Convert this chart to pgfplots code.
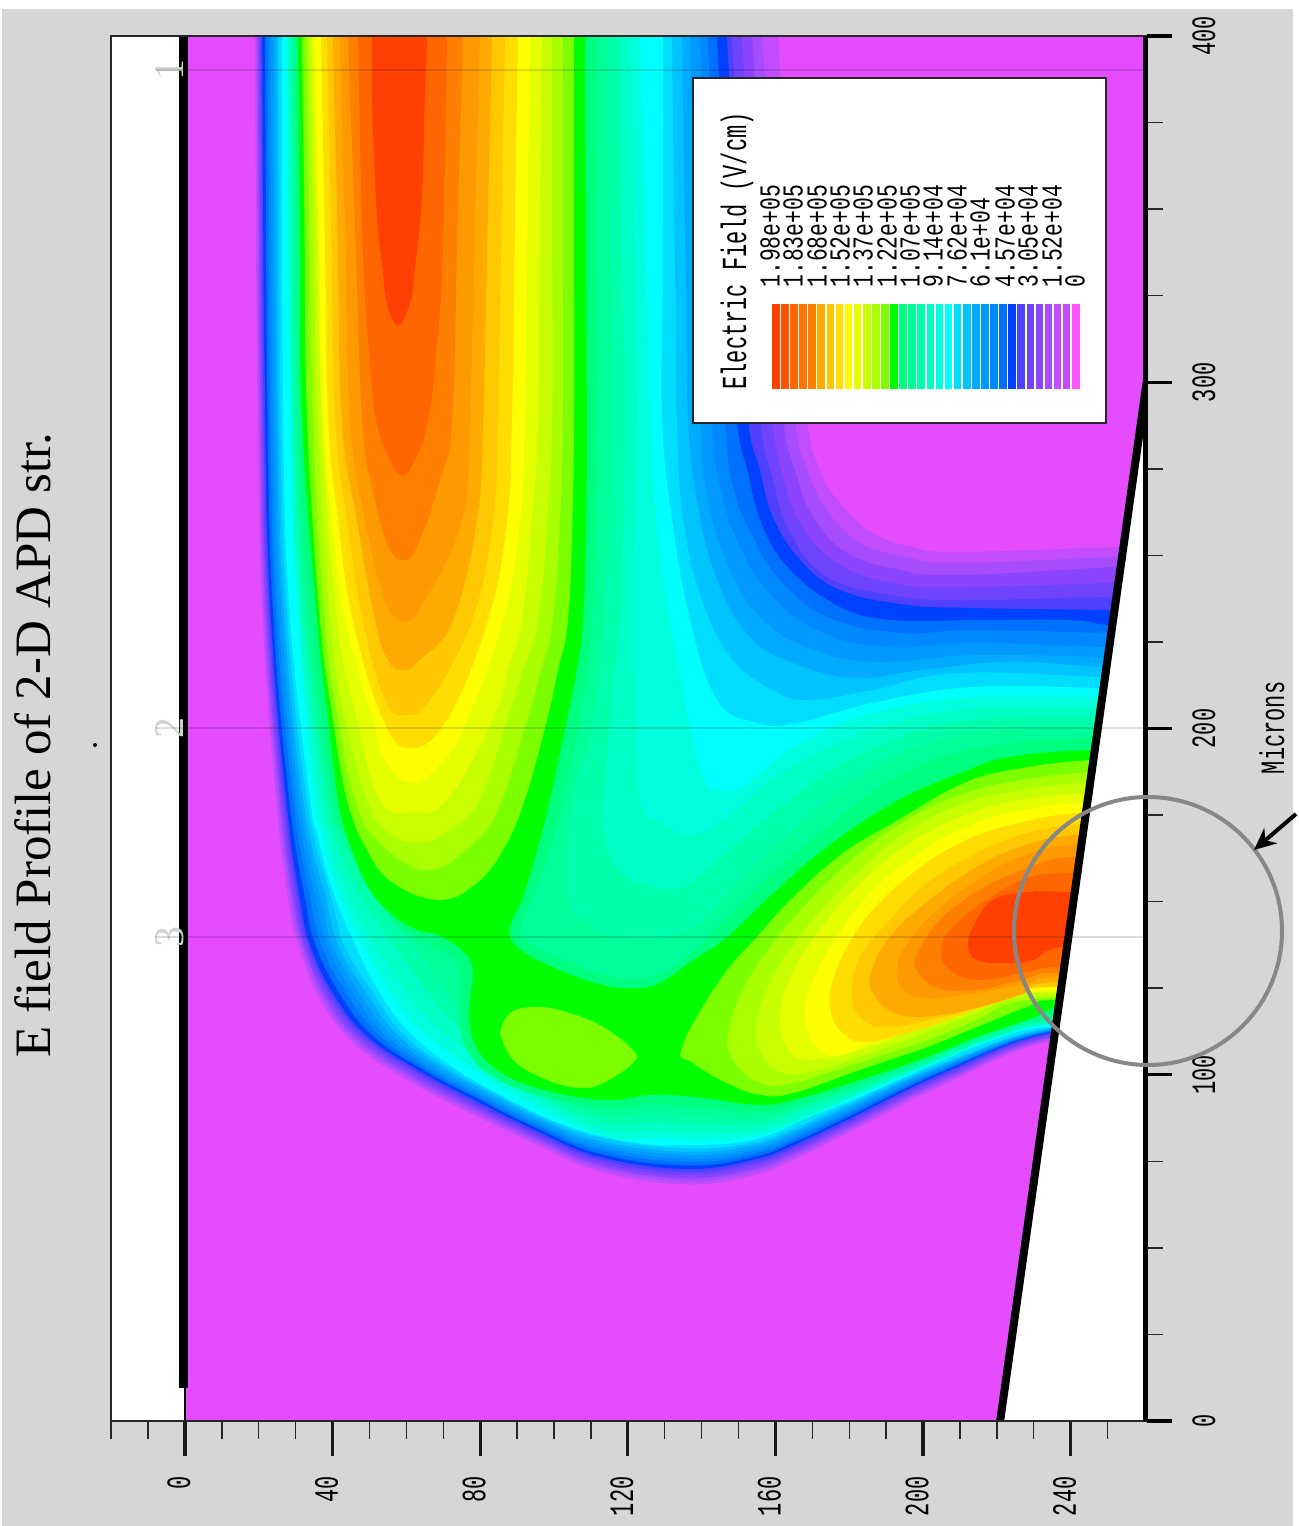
\documentclass[border=0pt]{standalone}
\usepackage{fontspec}
\setmainfont{Liberation Serif}
\newfontfamily\mono{Liberation Mono}
\usepackage{pgfplots}
\usetikzlibrary{arrows.meta}
\pgfplotsset{compat=1.18}
\newcommand\tl[1]{\scalebox{1}[1.55]{\mono\fontsize{11pt}{11pt}\selectfont #1}}
\newcommand\lgd[1]{\scalebox{1}[1.35]{\mono\fontsize{10.7pt}{11pt}\selectfont #1}}
\definecolor{c0}{HTML}{E64CFF}\definecolor{c1}{HTML}{C44CFF}\definecolor{c2}{HTML}{A84CFF}
\definecolor{c3}{HTML}{8C44FF}\definecolor{c4}{HTML}{7044FF}\definecolor{c5}{HTML}{5040FF}
\definecolor{c6}{HTML}{0040FF}\definecolor{c7}{HTML}{0070FF}\definecolor{c8}{HTML}{0088FF}
\definecolor{c9}{HTML}{0099FF}\definecolor{c10}{HTML}{00AAFF}\definecolor{c11}{HTML}{00C4FF}
\definecolor{c12}{HTML}{00DDFF}\definecolor{c13}{HTML}{00FFFF}\definecolor{c14}{HTML}{00FFDD}
\definecolor{c15}{HTML}{00FFC4}\definecolor{c16}{HTML}{00FFAA}\definecolor{c17}{HTML}{00FF99}
\definecolor{c18}{HTML}{00FF80}\definecolor{c19}{HTML}{00FF00}\definecolor{c20}{HTML}{7CFF00}
\definecolor{c21}{HTML}{AAFF00}\definecolor{c22}{HTML}{C8FF00}\definecolor{c23}{HTML}{E6FF00}
\definecolor{c24}{HTML}{FFFF00}\definecolor{c25}{HTML}{FFDD00}\definecolor{c26}{HTML}{FFC800}
\definecolor{c27}{HTML}{FFAA00}\definecolor{c28}{HTML}{FF9900}\definecolor{c29}{HTML}{FF8000}
\definecolor{c30}{HTML}{FF6600}\definecolor{c31}{HTML}{FF4000}
\definecolor{xa}{HTML}{FF5300}\definecolor{xb}{HTML}{FF7300}\definecolor{xc}{HTML}{FF55FF}
\definecolor{bgg}{HTML}{D6D6D6}
\pgfplotsset{lev/.style={draw=none,fill=#1,smooth,tension=0.7,forget plot,mark=none}}
\tikzset{px/.style={x=.5pt,y=-.5pt,shift={(0pt,763pt)}}}
\begin{document}
\begin{tikzpicture}
\begin{scope}[px]
\useasboundingbox (0,0) rectangle (1293,1526);
\fill[white] (0,0) rectangle (1293,1526);
\fill[bgg] (2,9) rectangle (1293,1526);
\end{scope}
\begin{axis}[at={(55.5pt,52.5pt)},anchor=south west,scale only axis,width=518pt,height=692.5pt,
 xmin=-20.05,xmax=260.7,ymin=0,ymax=400,axis on top,
 axis background/.style={fill=white},
 axis line style={black!85,line width=.7pt},
 tick align=outside,xtick pos=bottom,ytick pos=right,yticklabel pos=right,
 major tick length=17.5pt,minor tick length=9pt,
 major tick style={black!90,line width=1.6pt},minor tick style={black!85,line width=.7pt},
 xtick={0,40,80,120,160,200,240},xticklabels={\tl{0},\tl{40},\tl{80},\tl{120},\tl{160},\tl{200},\tl{240}},
 minor xtick={-20,-10,10,20,30,50,60,70,90,100,110,130,140,150,170,180,190,210,220,230,250},
 ytick={0,100,200,300,400},yticklabels={\tl{0},\tl{100},\tl{200},\tl{300},\tl{400}},
 ytick style={draw=none},
 xticklabel style={rotate=90,anchor=east,inner sep=0pt,yshift=3pt},xticklabel shift=10pt,
 yticklabel style={rotate=90,anchor=north,inner sep=0pt},yticklabel shift=5pt]
% base field
\addplot[lev=c0] coordinates {(0,0)(262,0)(262,400)(0,400)};
% level 1-13
\addplot[lev=c1] coordinates {(18.9,420)(18.9,400)(19.7,289.1)(21.05,231.3)(24.65,179.4)(27.95,150.5)(30.8,136.9)(37.2,120.5)(46.8,108.1)(61.1,97.9)(75.6,89.8)(94.9,80)(112.7,71.95)(136,68.3)(153.9,70.9)(165,75.45)(178.3,82.4)(205.4,97)(234.4,109.6)(262,109.6)(275,109.6)(275,252.4)(262,252.4)(252.6,252.4)(209.2,251)(197.3,252.4)(186.4,256.5)(177.5,265.1)(172.1,274.7)(168.6,289.1)(166,325)(163.4,362)(160.7,400)(160.7,420)};
\addplot[lev=c2] coordinates {(19.3,420)(19.3,400)(20.1,289.1)(21.5,231.3)(25.2,179.4)(28.6,150.5)(31.5,136.9)(37.9,120.9)(47.3,108.6)(61.5,98.6)(75.9,90.6)(94.9,80.8)(112.7,72.8)(136,69.2)(153.9,71.8)(165,76.3)(178.3,83.2)(205.4,97.7)(234.4,110.1)(262,110.1)(275,110.1)(275,249.5)(262,249.5)(252,249.5)(209.2,247.8)(195.7,249.5)(182.9,253.6)(174,263.1)(168.6,274.7)(165.3,289.1)(162.4,325)(159.4,362)(156.4,400)(156.4,420)};
\addplot[lev=c3] coordinates {(19.7,420)(19.7,400)(20.5,289.1)(21.95,231.3)(25.75,179.4)(29.25,150.5)(32.2,136.9)(38.6,121.3)(47.9,109.2)(61.9,99.3)(76.1,91.3)(94.9,81.6)(112.7,73.65)(136,70.1)(153.9,72.7)(165,77.15)(178.3,84)(205.4,98.4)(234.4,110.6)(262,110.6)(275,110.6)(275,246.6)(262,246.6)(251.5,246.6)(209.2,244.3)(193.8,245.8)(179.4,250.7)(170.2,261.1)(165.3,274.7)(162.1,289.1)(159.4,325)(156.6,362)(153.7,400)(153.7,420)};
\addplot[lev=c4] coordinates {(20.1,420)(20.1,400)(20.9,289.1)(22.4,231.3)(26.3,179.4)(29.9,150.5)(32.8,136.9)(39.3,121.7)(48.5,109.8)(62.3,100)(76.3,92.1)(94.9,82.4)(112.7,74.5)(136,71)(153.9,73.6)(165,78)(178.3,84.8)(205.4,99.1)(234.4,111.1)(262,111.1)(275,111.1)(275,242)(262,242)(251.5,242)(209.2,240.9)(191.9,242)(176.7,247.8)(166.7,259.4)(162.1,272.6)(159.1,289.1)(156.4,325)(153.7,362)(150.9,400)(150.9,420)};
\addplot[lev=c5] coordinates {(20.5,420)(20.5,400)(21.3,289.1)(22.85,231.3)(26.85,179.4)(30.55,150.5)(33.5,136.9)(40,122.1)(49.1,110.3)(62.7,100.7)(76.5,92.8)(94.9,83.2)(112.7,75.35)(136,71.9)(153.9,74.5)(165,78.85)(178.3,85.6)(205.4,99.8)(234.4,111.6)(262,111.6)(275,111.6)(275,238)(262,238)(251.2,238)(209.2,237.1)(191.1,238.6)(174,243.8)(164,256.5)(159.1,272.6)(155.8,289.1)(153.3,325)(150.8,362)(148.2,400)(148.2,420)};
\addplot[lev=c6] coordinates {(20.9,420)(20.9,400)(21.7,289.1)(23.3,231.3)(27.4,179.4)(31.2,150.5)(34.1,136.9)(40.7,122.5)(49.6,110.9)(63.1,101.4)(76.7,93.6)(94.9,84)(112.7,76.2)(136,72.8)(153.9,75.4)(165,79.7)(178.3,86.4)(205.4,100.5)(234.4,112.1)(262,112.1)(275,112.1)(275,234.2)(262,234.2)(251.5,234.2)(213.6,234.8)(195.7,235.7)(177.5,240)(166.7,248.7)(159.3,261.1)(155.8,274.7)(152.6,289.1)(150.8,325)(148.9,362)(146.9,400)(146.9,420)};
\addplot[lev=c7] coordinates {(21.7,420)(21.7,400)(22.4,289.1)(24,231.3)(28.3,179.4)(32.6,150.5)(35.6,136.9)(42.4,122.7)(51.2,111)(64.5,101.5)(77.7,94)(95.1,84.7)(112.7,77.1)(136,73.8)(153.9,76.2)(165,80.5)(178.3,87.1)(205.4,101)(234.4,112.3)(262,112.3)(275,112.3)(275,229.9)(262,229.9)(249.9,229.9)(239.8,231.3)(213.6,231.3)(191.9,231.3)(177.5,235.1)(164,245.8)(156.6,258.2)(152.3,274.7)(149.6,289.1)(147.8,325)(146,362)(144.2,400)(144.2,420)};
\addplot[lev=c8] coordinates {(22.4,420)(22.4,400)(23.1,289.1)(24.8,231.3)(29.3,179.4)(34.1,150.5)(37.2,136.9)(44.2,122.8)(52.8,111.2)(65.8,101.6)(78.4,94.3)(95.2,85.4)(112.7,78.1)(136,74.8)(153.9,77.1)(165,81.3)(178.3,87.9)(205.4,101.5)(234.4,112.6)(262,112.6)(275,112.6)(275,227.6)(262,227.6)(249.9,227.6)(213.6,228.4)(193.8,227.6)(174,232.2)(161.2,242.9)(153.9,255.3)(148.5,269.7)(146.3,289.1)(144.8,325)(143.3,362)(141.7,400)(141.7,420)};
\addplot[lev=c9] coordinates {(23.2,420)(23.2,400)(23.8,289.1)(25.5,231.3)(30.2,179.4)(35.5,150.5)(38.7,136.9)(45.9,123)(54.4,111.3)(67.2,101.7)(79.3,94.7)(95.4,86.1)(112.7,79)(136,75.8)(153.9,77.9)(165,82.1)(178.3,88.6)(205.4,102)(234.4,112.8)(262,112.8)(275,112.8)(275,223.5)(262,223.5)(249.9,223.5)(213.6,224.7)(191.1,223.5)(172.9,227.6)(159.3,238)(150.4,252.4)(145,269.7)(142.8,289.1)(141.8,325)(140.7,362)(139.6,400)(139.6,420)};
\addplot[lev=c10] coordinates {(24,420)(24,400)(24.5,289.1)(26.3,231.3)(31.1,179.4)(36.9,150.5)(40.2,136.9)(47.6,123.1)(56,111.4)(68.5,101.8)(80.2,95)(95.6,86.8)(112.7,79.9)(136,76.8)(153.9,78.7)(165,82.9)(178.3,89.4)(205.4,102.5)(234.4,113)(262,113)(275,113)(275,220.7)(262,220.7)(249.3,220.7)(213.6,221.2)(186.4,219.2)(168.6,223.5)(156.6,231.3)(147.7,245.8)(141.5,266.9)(139.6,289.1)(138.7,325)(137.8,362)(136.9,400)(136.9,420)};
\addplot[lev=c11] coordinates {(24.8,420)(24.8,400)(25.2,289.1)(27,231.3)(32,179.4)(38.3,150.5)(41.7,136.9)(49.4,123.3)(57.6,111.6)(69.9,102)(81,95.5)(95.7,87.5)(112.7,80.8)(136,77.7)(153.9,79.6)(165,83.7)(178.3,90.1)(205.4,102.9)(234.4,113.3)(262,113.3)(275,113.3)(275,217.8)(262,217.8)(248.8,217.8)(222.8,219.2)(200,216.9)(181,214.6)(164.8,218.9)(153.1,226.4)(144.2,242.9)(138.8,265.1)(136.3,289.1)(135.8,325)(135.2,362)(134.7,400)(134.7,420)};
\addplot[lev=c12] coordinates {(25.5,420)(25.5,400)(25.9,289.1)(27.8,231.3)(33,179.4)(39.8,150.5)(43.3,136.9)(51.1,123.5)(59.1,111.7)(71.2,102.1)(81.8,95.8)(95.9,88.2)(112.7,81.8)(136,78.7)(153.9,80.4)(165,84.5)(178.3,90.9)(205.4,103.4)(234.4,113.5)(262,113.5)(275,113.5)(275,214.9)(262,214.9)(248.5,214.9)(209.2,216)(186.4,211.1)(168.6,208.2)(159.3,211.1)(148.5,219.8)(140.4,236.2)(135,260.2)(133.3,289.1)(132.9,325)(132.4,362)(132,400)(132,420)};
\addplot[lev=c13] coordinates {(26.3,420)(26.3,400)(26.6,289.1)(28.5,231.3)(33.9,179.4)(35.8,169.8)(39.3,155.4)(45.5,138.9)(52.8,123.6)(61,112.1)(72.6,102.2)(88.1,92.7)(104.3,84.9)(122.5,80.3)(136,79.7)(153.9,81.2)(169.4,87.8)(182.9,93.6)(201.1,102.2)(219,110)(234.4,113.8)(262,113.8)(275,113.8)(275,211.7)(262,211.7)(248,211.7)(213.6,212)(186.4,207.4)(165.9,201.6)(155,201.6)(144.2,208.2)(136.9,231.3)(132,260.2)(129.3,289.1)(129.4,325)(129.5,362)(129.5,400)(129.5,420)};
% level 14-18
\addplot[lev=c14] coordinates {(27.6,420)(27.6,400)(28.5,289.1)(30.6,231.3)(35.2,179.4)(37.1,169.8)(40.7,155.4)(46.9,140.4)(54.5,125.9)(63.1,113.5)(74.5,104.3)(90.8,93.3)(113.3,82.3)(126.8,81.7)(140.4,81.2)(155,82.3)(168,87.2)(182.9,94.2)(201.1,102.5)(219,110.3)(234.4,114.4)(262,114.4)(275,114.4)(275,209.1)(262,209.1)(247.2,209.1)(213.6,209.1)(186.4,204.5)(165.9,195.2)(151.8,183.7)(145,182.2)(139.6,188)(134.1,216)(128.7,250.7)(126,289.1)(125.1,325)(124.2,362)(123.3,400)(123.3,420)};
\addplot[lev=c15] coordinates {(27.9,420)(27.9,400)(29,289.1)(31.2,231.3)(36.6,179.4)(38.8,169.8)(42.5,156.2)(49.1,141.8)(56.9,128.8)(65.9,116.4)(76.7,106.6)(92.1,95)(113.3,84.3)(126.8,83.8)(140.4,83.2)(155,83.8)(166.7,87.5)(182.9,94.7)(201.1,102.8)(219,110.6)(234.4,114.7)(262,114.7)(275,114.7)(275,206.2)(262,206.2)(247.2,206.2)(210,205.3)(182.9,198.1)(161.2,186.6)(146.3,173.6)(136.9,169.3)(128.7,172.7)(123.3,179.4)(122,208.2)(121.1,237.1)(122.5,289.1)(121.5,345)(120.6,400)(120.6,420)};
\addplot[lev=c16] coordinates {(28.5,420)(28.5,400)(29.5,289.1)(32,231.3)(37.9,179.4)(40.1,170.7)(44.7,157.7)(51.8,144.7)(59.6,133.1)(68.6,120.1)(79.1,108.6)(93.5,95.6)(113.3,86.4)(126.8,86.4)(140.4,85.5)(155,85.5)(164.8,89)(182.9,95.6)(201.1,103.4)(219,110.9)(234.4,115.2)(262,115.2)(275,115.2)(275,203)(262,203)(246.6,203)(210,201.9)(182.9,192.3)(164,179.4)(147.7,164.9)(136.9,155.3)(128.7,153.9)(117.9,158.3)(113.3,169.8)(113.3,179.4)(115.7,208.2)(117.9,237.1)(119.2,289.1)(118.2,345)(117.3,400)(117.3,420)};
\addplot[lev=c17] coordinates {(29,420)(29,400)(30.1,289.1)(32.8,231.3)(39,179.4)(41.7,170.7)(46.9,159.1)(55,146.1)(63.1,136)(71.3,123)(81.3,110)(95.4,96.5)(113.3,88.4)(126.8,89)(140.4,87.8)(155,87.2)(164.8,89.8)(182.9,96.5)(201.1,104)(219,111.5)(234.4,115.8)(262,115.8)(275,115.8)(275,200.1)(262,200.1)(246.6,200.1)(210,198.1)(185.6,188)(166.7,172.1)(150.4,156.2)(136.9,141.8)(117.9,139.8)(108.9,143.8)(103.5,152.5)(105.1,179.4)(110.6,202.5)(113.8,237.1)(115.7,289.1)(115.1,345)(114.6,400)(114.6,420)};
\addplot[lev=c18] coordinates {(29.8,420)(29.8,400)(30.9,289.1)(33.9,231.3)(40.1,179.4)(43.1,169.2)(48.8,156.2)(56.9,144.1)(66.4,137.5)(73.2,133.1)(74.5,125.9)(74.5,114.4)(77.2,105.7)(84,99.1)(95.4,94.2)(113.3,90.4)(126.8,91.3)(140.4,90.4)(155,89.2)(164.8,91)(182.9,97.3)(201.1,104.5)(219,112.1)(234.4,116.4)(262,116.4)(275,116.4)(275,197.3)(262,197.3)(245.3,197.3)(215.4,194.4)(193.8,186.6)(174.8,172.1)(155.8,154.8)(139.6,137.5)(130,129.7)(123.3,127.9)(113.8,128.8)(101.6,133.7)(92.1,138.9)(91.3,143.2)(94.3,151.3)(99.7,167.8)(102.4,179.4)(107,202.5)(110.3,231.3)(111.9,289.1)(111.8,345)(111.7,400)(111.7,420)};
% level 19
\addplot[lev=c19] coordinates {(30.6,420)(30.6,400)(31.15,345)(31.7,289.1)(35.8,231.3)(38.8,202.5)(41.5,179.4)(44.7,166.4)(50.1,153.4)(56.4,146.1)(62.9,141.8)(69.1,140.1)(76.4,134.6)(78,128.8)(77.2,121.6)(77.2,114.4)(79.1,107.7)(84.6,101.4)(95.4,96.2)(113.3,92.7)(126.8,94.2)(140.4,93.3)(155,91.3)(164.8,92.7)(182.9,98.5)(201.1,105.1)(214.6,110.9)(228.2,115.8)(239.8,120.1)(262,120.1)(275,120.1)(275,193.8)(262,193.8)(245.3,193.8)(223.6,191.8)(210,187.1)(191.9,178.5)(174,165.8)(160.4,153.4)(146.9,139.8)(137.7,133.1)(128.7,126.5)(122.5,125.1)(113.3,125.9)(99.7,131.1)(90,136.9)(88.1,142.7)(91.6,151.3)(96.2,167.8)(98.9,179.4)(103.5,202.5)(106.2,216.9)(107.9,231.3)(108.7,260.2)(108.9,289.1)(108.65,345)(108.4,400)(108.4,420)};
% level 20 : channel, island, lobe
\addplot[lev=c20] coordinates {(31.7,420)(31.7,400)(32.4,345)(33.1,289.1)(36.6,231.3)(40.1,202.5)(43.9,179.4)(49.3,164.9)(56.4,155.4)(69.1,150.5)(79.1,155.4)(86.2,164.9)(92.1,179.4)(98.1,202.5)(101.1,216.9)(103.8,231.3)(105,260.2)(105.4,289.1)(105.4,345)(105.4,400)(105.4,420)};
\addplot[lev=c20] coordinates {(85.4,112.1)(88.1,117.8)(95.4,119.6)(104.3,117.8)(113.3,113.8)(121.4,107.1)(121.4,103.4)(113.3,97.6)(107,96.2)(98.1,98.5)(88.9,104.3)(85.4,112.1)};
\addplot[lev=c20] coordinates {(275,190.9)(262,190.9)(245.3,190.9)(223.6,188)(210,183.7)(191.9,172.7)(178.3,164)(164.8,151.3)(155,139.8)(145,127.4)(134.7,108)(137.7,103.4)(146.9,97.6)(155.8,94.2)(164.8,94.7)(182.9,101.4)(201.1,108)(214.6,113.8)(228.2,119.6)(235.2,121.6)(262,121.6)(275,121.6)};
% level 21
\addplot[lev=c21] coordinates {(32.8,420)(32.8,400)(33.75,345)(34.7,289.1)(37.9,231.3)(41.5,202.5)(46.1,179.4)(52,167.8)(65.6,159.1)(79.1,167.8)(85.9,179.4)(92.7,202.5)(96.5,216.9)(99.7,231.3)(101.6,260.2)(102.4,289.1)(102.4,345)(102.4,400)(102.4,420)};
\addplot[lev=c21] coordinates {(275,187.4)(262,187.4)(244.4,187.4)(223.6,184.5)(210,180.8)(195.7,173.6)(182.9,164)(169.4,150.5)(158.5,136.9)(151.2,124.5)(147.2,112.1)(148.5,104.3)(155.8,97.6)(164.8,97.6)(178.3,102)(201.1,110)(214.6,115.8)(228.2,121.6)(262,122.6)(275,122.6)};
% level 22
\addplot[lev=c22] coordinates {(33.6,420)(33.6,400)(34.8,345)(36,289.1)(39.3,231.3)(43.4,202.5)(49.3,179.4)(54.2,170.7)(62.9,166.9)(71.8,170.7)(79.9,179.4)(87.3,202.5)(91.6,216.9)(95.7,231.3)(98.2,260.2)(99.5,289.1)(99.5,345)(99.5,400)(99.5,420)};
\addplot[lev=c22] coordinates {(275,184.3)(262,184.3)(243.4,184.3)(223.6,181.7)(210,177.9)(196.5,170.7)(182.9,159.1)(169.4,143.8)(160.4,130.3)(155.3,116.7)(155.8,107.1)(162,100.5)(171.3,101.4)(182.9,105.1)(201.1,112.3)(214.6,117.8)(228.2,122.5)(262,123)(275,123)};
% level 23
\addplot[lev=c23] coordinates {(34.4,420)(34.4,400)(35.75,345)(37.1,289.1)(41.2,231.3)(46.6,202.5)(52.8,179.4)(61.8,175.6)(71,179.4)(83.5,202.5)(87.5,216.9)(91.3,231.3)(94,260.2)(95.7,289.1)(96.2,345)(96.7,400)(96.7,420)};
\addplot[lev=c23] coordinates {(275,181.4)(262,181.4)(242.5,181.4)(223.6,178.8)(210,174.4)(196.5,166.9)(182.9,155.4)(172.1,141.8)(164,128.2)(161.2,116.7)(163.1,108)(168.6,104.3)(182.9,107.1)(201.1,114.4)(214.6,119.3)(228.2,123.6)(262,124)(275,124)};
% level 24
\addplot[lev=c24] coordinates {(35.2,420)(35.2,400)(36.3,345)(37.4,289.1)(39.8,260.2)(43.4,231.3)(50.9,202.5)(54.2,190.9)(61,184.3)(69.1,189.5)(76.4,202.5)(86.2,231.3)(90.8,260.2)(92.1,289.1)(92.8,345)(93.5,400)(93.5,420)};
\addplot[lev=c24] coordinates {(275,178.5)(262,178.5)(242,178.5)(223.6,175.6)(210,170.7)(199.2,164)(186.4,153.4)(176.7,139.8)(170.2,127.4)(168,116.7)(171.3,108)(177.5,105.7)(191.9,112.1)(210,118.1)(226.3,123.6)(262,124.5)(275,124.5)};
% level 25
\addplot[lev=c25] coordinates {(36.9,420)(36.9,400)(37.85,345)(38.8,289.1)(41.5,260.2)(45.5,231.3)(53.7,202.5)(61,194.4)(71,202.5)(82.1,231.3)(87.3,260.2)(88.6,289.1)(89.4,345)(90.2,400)(90.2,420)};
\addplot[lev=c25] coordinates {(275,175.6)(262,175.6)(241.7,175.6)(223.6,172.1)(210,166.9)(197.3,158.3)(186.4,147.6)(179.4,136.9)(175.6,127.4)(174.8,119.6)(177.5,112.9)(184.8,109.5)(201.1,113.8)(219,120.7)(229.8,125)(262,125.5)(275,125.5)};
% level 26
\addplot[lev=c26] coordinates {(38.5,420)(38.5,400)(39.6,345)(40.7,289.1)(43.9,260.2)(48.2,231.3)(54.2,208.2)(59.6,203.9)(66.4,208.2)(77.8,231.3)(83.5,260.2)(84.8,289.1)(85.75,345)(86.7,400)(86.7,420)};
\addplot[lev=c26] coordinates {(275,172.1)(262,172.1)(241.2,172.1)(226.3,169.2)(214.6,164)(201.1,155.4)(190.2,143.8)(182.9,134)(180.8,123.6)(182.9,116.7)(190.2,113.8)(205.4,116.7)(223.6,122.2)(230.9,125.3)(262,126)(275,126)};
% level 27
\addplot[lev=c27] coordinates {(40.1,420)(40.1,400)(41.3,345)(42.5,289.1)(46.6,260.2)(51.5,231.3)(55,219.8)(59.1,216.9)(63.7,219.8)(72.6,231.3)(79.1,260.2)(80.8,289.1)(82,345)(83.2,400)(83.2,420)};
\addplot[lev=c27] coordinates {(275,169.2)(262,169.2)(240.7,169.2)(226.3,165.8)(214.6,160)(202.7,151.3)(191.9,140.9)(186.4,131.1)(186.4,123.6)(193.8,117.3)(208.1,117.8)(226.3,123)(232.5,126.5)(262,127)(275,127)};
% level 28
\addplot[lev=c28] coordinates {(42,420)(42,400)(43.35,345)(44.7,289.1)(48.8,260.2)(54.2,237.1)(59.6,230.8)(65,237.1)(75.1,260.2)(77.2,289.1)(78.55,345)(79.9,400)(79.9,420)};
\addplot[lev=c28] coordinates {(275,166.4)(262,166.4)(240.4,166.4)(226.3,162.9)(214.6,156.2)(203.8,147.6)(195.7,138)(193,130.3)(194.6,124.5)(201.1,122.2)(214.6,123.6)(228.2,126.5)(234.4,128.2)(262,128.2)(275,128.2)};
% level 29
\addplot[lev=c29] coordinates {(44.2,420)(44.2,400)(46.1,345)(48,289.1)(50.9,268.9)(55,253)(59.1,248.7)(63.1,253)(69.1,271.8)(72.4,289.1)(73.85,345)(75.3,400)(75.3,420)};
\addplot[lev=c29] coordinates {(275,162.9)(262,162.9)(239.8,162.9)(228.2,159.7)(215.4,153.4)(204.6,144.7)(198.6,135.2)(198.4,130.3)(203.8,125.1)(214.6,124.5)(228.2,127.9)(235.2,129.4)(262,129.4)(275,129.4)};
% level 30
\addplot[lev=c30] coordinates {(46.9,420)(46.9,400)(48.2,338.2)(49.8,310)(51.8,289.1)(55.6,277.5)(58.8,273.2)(62.3,277.5)(65.9,289.1)(68.2,310)(69.9,338.2)(71,400)(71,420)};
\addplot[lev=c30] coordinates {(275,158.3)(262,158.3)(239.3,158.3)(228.2,156.8)(217.3,150.5)(208.1,142.7)(205.1,136.9)(206.5,131.1)(214.6,127.4)(228.2,129.7)(236.3,131.1)(262,131.1)(275,131.1)};
% level 31
\addplot[lev=c31] coordinates {(50.7,420)(50.7,400)(50.7,381.5)(51.5,358.4)(52.3,344)(53.4,334.4)(54.7,322.9)(57.7,316.5)(61,322.9)(62.3,332.4)(64.2,353.5)(65,382.4)(65.6,400)(65.6,420)};
\addplot[lev=c31] coordinates {(275,152.8)(262,152.8)(239.8,152.8)(228.2,152.8)(219,150.5)(214.6,144.7)(212.2,138)(214.6,133.1)(223.6,132.3)(229.8,133.1)(237.9,136.9)(262,136.9)(275,136.9)};
% white wedge and structure lines
\addplot[fill=white,draw=none,forget plot] coordinates {(220.9,0)(260.6,300)(262,300)(262,0)};
\addplot[black,line width=4pt,forget plot] coordinates {(220.9,0)(260.6,300)};
\addplot[black,line width=4.5pt,forget plot] coordinates {(-0.4,9.5)(-0.4,400)};
\addplot[black,line width=1.2pt,forget plot] coordinates {(0,0)(0,9.5)};
\end{axis}
\begin{scope}[px]
% right axis
\draw[black,line width=2.5pt] (1145.5,36) -- (1145.5,1421);
\foreach \v in {0,100,200,300,400} \draw[black,line width=1.7pt] (1147,{1421-3.4625*\v}) -- (1172,{1421-3.4625*\v});
\foreach \v in {25,50,75,125,150,175,225,250,275,325,350,375} \draw[black!85,line width=.7pt] (1147,{1421-3.4625*\v}) -- (1163,{1421-3.4625*\v});
% level lines
\foreach \p/\l in {70/1,728/2,937/3}{
 \node[rotate=90,text=black!18,font=\fontsize{21pt}{21pt}\selectfont,inner sep=0pt] at (170,\p) {\l};
 \draw[black,opacity=.14,line width=.7pt] (155,\p) -- (1147,\p);
}
% title
\node[rotate=90,inner sep=0pt,font=\fontsize{25.5pt}{26pt}\selectfont] at (33,745) {E field Profile of 2-D APD str.};
\fill[black] (95,745) circle (2);
\node[rotate=90,inner sep=0pt] at (1272,728) {\tl{Microns}};
% legend
\fill[white] (693,78) rectangle (1106,423);
\draw[black!85,line width=.8pt] (693,78) rectangle (1106,423);
\foreach \c [count=\i from 0] in {c31,xa,c30,xb,c29,c27,c26,c25,c24,c23,c22,c21,c20,c19,c18,c17,c16,c15,c14,c13,c12,c11,c10,c9,c8,c7,c6,c5,c4,c3,c2,c1,c1,xc}
 \fill[\c] ({772+9.09*\i},304) rectangle ({772+9.09*\i+7.6},389);
\node[rotate=90,anchor=west,inner sep=0pt] at (737,390) {\scalebox{1}[1.6]{\mono\fontsize{11pt}{11pt}\selectfont Electric Field (V/cm)}};
\foreach \t/\xp in {1.98e+05/770,1.83e+05/793,1.68e+05/817,1.52e+05/840,1.37e+05/863,1.22e+05/887,1.07e+05/910,9.14e+04/933,7.62e+04/957,6.1e+04/980,4.57e+04/1005,3.05e+04/1028,1.52e+04/1052,0/1075}
 \node[rotate=90,anchor=west,inner sep=0pt] at (\xp,288) {\lgd{\t}};
% circle and arrow
\draw[color=black!47,line width=2pt] (1148,931) circle (134);
\draw[black,line width=2pt,-{Stealth[length=11pt,width=10pt]}] (1296,814) -- (1254,850);
\end{scope}
\end{tikzpicture}
\end{document}
